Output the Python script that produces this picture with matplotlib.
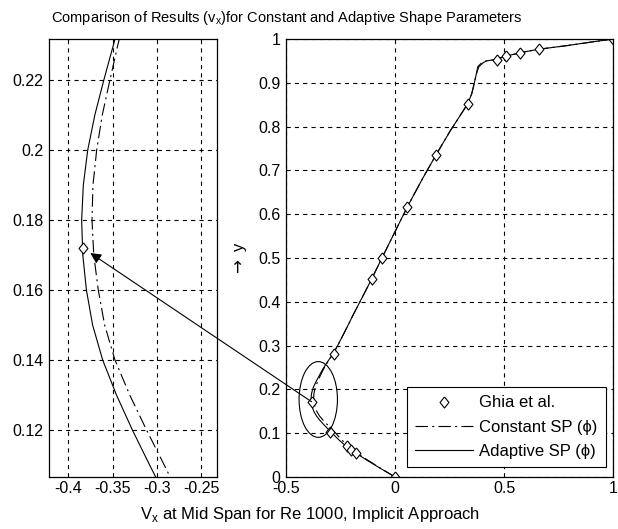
import matplotlib
matplotlib.use("Agg")
import matplotlib.pyplot as plt
from matplotlib.patches import Ellipse, ConnectionPatch
from matplotlib.lines import Line2D

plt.rcParams["font.family"] = ["Liberation Sans", "DejaVu Sans"]
plt.rcParams["font.size"] = 11.5
plt.rcParams["axes.unicode_minus"] = False
plt.rcParams["lines.scale_dashes"] = False

# Ghia et al. (1982), Re = 1000, u-velocity along the vertical centreline
ghia_y = [1.0000, 0.9766, 0.9688, 0.9609, 0.9531, 0.8516, 0.7344, 0.6172,
          0.5000, 0.4531, 0.2813, 0.1719, 0.1016, 0.0703, 0.0625, 0.0547, 0.0000]
ghia_u = [1.00000, 0.65928, 0.57492, 0.51117, 0.46604, 0.33304, 0.18719, 0.05702,
          -0.06080, -0.10648, -0.27805, -0.38289, -0.29730, -0.22220, -0.20196,
          -0.18109, 0.00000]

# Adaptive shape parameter solution
adaptive_y = [0.000, 0.020, 0.040, 0.055, 0.070, 0.085, 0.100, 0.110, 0.120,
              0.130, 0.140, 0.150, 0.160, 0.170, 0.180, 0.190, 0.200, 0.210,
              0.220, 0.230, 0.245, 0.262, 0.281, 0.300, 0.330, 0.370, 0.420,
              0.4531, 0.500, 0.560, 0.6172, 0.680, 0.7344, 0.790, 0.8516, 0.875,
              0.900, 0.920, 0.937, 0.946, 0.950, 0.9531, 0.9609, 0.9688, 0.9766,
              0.985, 0.993, 1.000]
adaptive_u = [0.000, -0.068, -0.134, -0.181, -0.224, -0.258, -0.288, -0.308, -0.3275,
              -0.3455, -0.3611, -0.3725, -0.3795, -0.3836, -0.3849, -0.3830, -0.3780, -0.3700,
              -0.3598, -0.3490, -0.333, -0.311, -0.285, -0.263, -0.232, -0.192, -0.140,
              -0.106, -0.060, 0.000, 0.057, 0.125, 0.187, 0.253, 0.333, 0.352,
              0.364, 0.373, 0.385, 0.405, 0.420, 0.460, 0.511, 0.575, 0.659,
              0.790, 0.900, 1.000]

# Constant shape parameter solution
constant_y = [0.000, 0.020, 0.040, 0.055, 0.070, 0.085, 0.100, 0.110, 0.120,
              0.130, 0.140, 0.150, 0.160, 0.170, 0.180, 0.190, 0.200, 0.210,
              0.220, 0.230, 0.245, 0.262, 0.281, 0.300, 0.330, 0.370, 0.420,
              0.4531, 0.500, 0.560, 0.6172, 0.680, 0.7344, 0.790, 0.8516, 0.875,
              0.900, 0.920, 0.937, 0.946, 0.950, 0.9531, 0.9609, 0.9688, 0.9766,
              0.985, 0.993, 1.000]
constant_u = [0.000, -0.066, -0.130, -0.175, -0.213, -0.245, -0.272, -0.2915, -0.3115,
              -0.3305, -0.3472, -0.3589, -0.3661, -0.3712, -0.3732, -0.3721, -0.3679, -0.3616,
              -0.3529, -0.3440, -0.329, -0.309, -0.284, -0.263, -0.232, -0.192, -0.140,
              -0.106, -0.060, 0.000, 0.057, 0.125, 0.187, 0.253, 0.333, 0.352,
              0.364, 0.373, 0.380, 0.398, 0.418, 0.458, 0.511, 0.575, 0.659,
              0.790, 0.900, 1.000]

main_xticks = [-0.5, 0, 0.5, 1]
main_xlabels = ["-0.5", "0", "0.5", "1"]
main_yticks = [0, 0.1, 0.2, 0.3, 0.4, 0.5, 0.6, 0.7, 0.8, 0.9, 1.0]
main_ylabels = ["0", "0.1", "0.2", "0.3", "0.4", "0.5", "0.6", "0.7", "0.8", "0.9", "1"]
zoom_xticks = [-0.4, -0.35, -0.3, -0.25]
zoom_xlabels = ["-0.4", "-0.35", "-0.3", "-0.25"]
zoom_yticks = [0.12, 0.14, 0.16, 0.18, 0.2, 0.22]
zoom_ylabels = ["0.12", "0.14", "0.16", "0.18", "0.2", "0.22"]

labels = ["Ghia et al.", "Constant SP (\u03d5)", "Adaptive SP (\u03d5)"]

diamond = [(0, 1), (0.8, 0), (0, -1), (-0.8, 0), (0, 1)]
dashdot = (0, (9, 3, 1.5, 3))
grid_style = dict(color="black", linestyle=(0, (3, 3)), linewidth=0.8)

W, H = 618, 529
fig = plt.figure(figsize=(W / 100, H / 100), dpi=100)
ax = fig.add_axes([286 / W, 52 / H, 327 / W, 438 / H])
axz = fig.add_axes([49 / W, 52 / H, 168 / W, 438 / H])


def draw(a):
    a.plot(constant_u, constant_y, color="black", linestyle=dashdot, linewidth=0.8)
    a.plot(adaptive_u, adaptive_y, color="black", linestyle="-", linewidth=0.8)
    a.plot(ghia_u, ghia_y, linestyle="none", marker=diamond, markersize=8,
           markerfacecolor="white", markeredgecolor="black", markeredgewidth=0.8)
    a.grid(True, **grid_style)
    a.set_axisbelow(True)
    a.tick_params(direction="in", length=3, width=0.6, labelsize=11.5)
    a.tick_params(axis="x", pad=3)
    a.tick_params(axis="y", pad=4)
    for s in a.spines.values():
        s.set_linewidth(0.9)


draw(ax)
draw(axz)

ax.set_xlim(-0.5, 1)
ax.set_ylim(0, 1)
ax.set_xticks(main_xticks, main_xlabels)
ax.set_yticks(main_yticks, main_ylabels)
ax.set_ylabel("$\\rightarrow$ y", fontsize=12)
ax.yaxis.set_label_coords(-0.112, 0.498)

axz.set_xlim(-0.4218, -0.2319)
axz.set_ylim(0.1066, 0.2317)
axz.set_xticks(zoom_xticks, zoom_xlabels)
axz.set_yticks(zoom_yticks, zoom_ylabels)

# region of interest around the velocity minimum
ax.add_patch(Ellipse((-0.352, 0.177), 0.176, 0.173, fill=False,
                     edgecolor="black", linewidth=0.8, zorder=4))

handles = [
    Line2D([], [], linestyle="none", marker=diamond, markersize=8,
           markerfacecolor="white", markeredgecolor="black", markeredgewidth=0.8),
    Line2D([], [], color="black", linestyle=dashdot, linewidth=0.8),
    Line2D([], [], color="black", linestyle="-", linewidth=0.8),
]
leg = ax.legend(handles, labels, loc="lower right", bbox_to_anchor=(0.979, 0.0228),
                borderaxespad=0, fancybox=False, edgecolor="black", framealpha=1,
                handlelength=3.5, handletextpad=0.36, labelspacing=0.55,
                borderpad=0.5, fontsize=12)
leg.get_frame().set_linewidth(0.8)

# arrow linking the minimum in the full profile to the magnified view
i_min = 11
con = ConnectionPatch(xyA=(ghia_u[i_min], ghia_y[i_min]), coordsA=ax.transData,
                      xyB=(ghia_u[i_min], ghia_y[i_min]), coordsB=axz.transData,
                      arrowstyle="-|>", mutation_scale=16, shrinkA=0, shrinkB=6,
                      color="black", linewidth=0.8, zorder=10)
fig.add_artist(con)

fig.text(287 / W, 1 - 18 / H,
         "Comparison of Results (v$_{\\mathregular{x}}$)for Constant and Adaptive Shape Parameters",
         ha="center", va="center", fontsize=10.5)
fig.text(310 / W, 1 - 514 / H,
         "V$_{\\mathregular{x}}$ at Mid Span for Re 1000, Implicit Approach",
         ha="center", va="center", fontsize=12)

fig.savefig("out.png", dpi=100)
